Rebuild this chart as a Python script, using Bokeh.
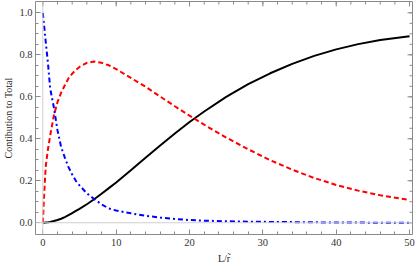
import math
from bokeh.plotting import figure
from bokeh.models import LinearAxis, FixedTicker, Span, Range1d
from bokeh.embed import file_html
from bokeh.resources import INLINE

x_vals = [0, 0.2, 0.4, 0.7, 1, 1.5, 2, 2.5, 3, 3.5, 4, 4.5, 5, 6, 7, 8, 9, 10,
          12, 14, 16, 18, 20, 22, 25, 28, 31, 34, 37, 40, 43, 46, 50]
black_vals = [0, 0, 0.001, 0.002, 0.004, 0.008, 0.013, 0.019, 0.027, 0.036, 0.046,
              0.056, 0.066, 0.088, 0.112, 0.138, 0.165, 0.192, 0.25, 0.31, 0.368, 0.425,
              0.48, 0.53, 0.60, 0.66, 0.712, 0.757, 0.795, 0.826, 0.851, 0.871, 0.889]
red_vals = [0, 0.15, 0.27, 0.35, 0.415, 0.51, 0.575, 0.62, 0.655, 0.688, 0.71,
            0.728, 0.742, 0.762, 0.768, 0.762, 0.75, 0.732, 0.69, 0.648, 0.601, 0.555,
            0.51, 0.467, 0.406, 0.35, 0.298, 0.253, 0.213, 0.18, 0.153, 0.131, 0.108]
blue_vals = [1.0, 0.93, 0.86, 0.76, 0.64, 0.55, 0.44, 0.36, 0.31, 0.265, 0.23,
             0.20, 0.178, 0.14, 0.113, 0.088, 0.068, 0.058, 0.045, 0.033, 0.025, 0.018,
             0.013, 0.010, 0.007, 0.005, 0.004, 0.003, 0.002, 0.001, 0.001, 0.0, 0.0]

x_major = [0, 10, 20, 30, 40, 50]
x_minor = [v for v in range(0, 51, 2)]
y_major = [0.0, 0.2, 0.4, 0.6, 0.8, 1.0]
y_minor = [round(i * 0.05, 2) for i in range(0, 21)]

x_label = "L/r\u0303"
y_label = "Contibution to Total"

FONT = "Liberation Serif"
GRAY = "#8a8a8a"

x_rng = Range1d(-1.0, 50.4)
y_rng = Range1d(-0.056, 1.054)

p = figure(width=415, height=270, output_backend="svg", toolbar_location=None,
           x_range=x_rng, y_range=y_rng,
           x_axis_location=None, y_axis_location=None,
           min_border_left=35, min_border_right=3, min_border_top=1, min_border_bottom=36)
p.xgrid.visible = False
p.ygrid.visible = False
p.outline_line_color = GRAY
p.outline_line_width = 1
p.background_fill_color = "white"
p.border_fill_color = "white"

def style_axis(ax):
    ax.axis_line_color = None
    ax.major_tick_in = 5
    ax.major_tick_out = 0
    ax.minor_tick_in = 3
    ax.minor_tick_out = 0
    ax.major_tick_line_color = GRAY
    ax.minor_tick_line_color = GRAY
    ax.major_label_text_font = FONT
    ax.major_label_text_font_size = "10.5px"
    ax.major_label_text_color = "#333333"
    ax.axis_label_text_font = FONT
    ax.axis_label_text_font_size = "10px"
    ax.axis_label_text_font_style = "normal"
    ax.axis_label_text_color = "#222222"

xt = FixedTicker(ticks=x_major, minor_ticks=x_minor)
yt = FixedTicker(ticks=y_major, minor_ticks=y_minor)

bottom = LinearAxis(ticker=xt, axis_label=x_label, axis_label_standoff=4)
style_axis(bottom)
bottom.major_label_standoff = 4
bottom.major_label_overrides = {v: str(v) for v in x_major}
left = LinearAxis(ticker=yt, axis_label=y_label, axis_label_standoff=2)
style_axis(left)
left.major_label_standoff = 3
left.major_label_overrides = {v: f"{v:.1f}" for v in y_major}
p.add_layout(bottom, "below")
p.add_layout(left, "left")

# inward ticks on the top and right frame edges
p.ray(x=x_major, y=[y_rng.end] * len(x_major), length=5, length_units="screen",
      angle=-math.pi / 2, line_color=GRAY, line_width=1)
p.ray(x=x_minor, y=[y_rng.end] * len(x_minor), length=3, length_units="screen",
      angle=-math.pi / 2, line_color=GRAY, line_width=1)
p.ray(x=[x_rng.end] * len(y_major), y=y_major, length=5, length_units="screen",
      angle=math.pi, line_color=GRAY, line_width=1)
p.ray(x=[x_rng.end] * len(y_minor), y=y_minor, length=3, length_units="screen",
      angle=math.pi, line_color=GRAY, line_width=1)

p.add_layout(Span(location=0, dimension="width", line_color="#d0d0d0", line_width=1))
p.add_layout(Span(location=0, dimension="height", line_color="#d0d0d0", line_width=1))

p.line(x_vals, black_vals, line_color="black", line_width=2)
p.line(x_vals, red_vals, line_color="#ff0000", line_width=2, line_dash="5 3")
p.line(x_vals, blue_vals, line_color="#0000ff", line_width=2, line_dash="5 3 2 3")

open("out.html", "w").write(file_html(p, INLINE))
